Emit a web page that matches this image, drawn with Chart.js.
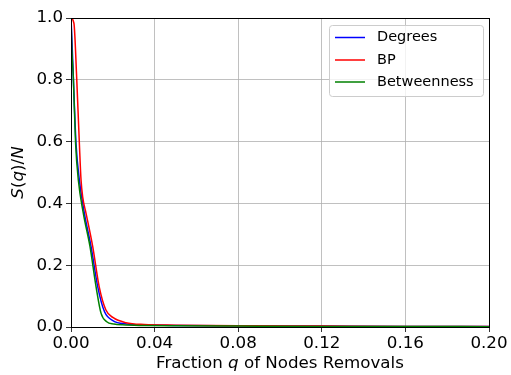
<!DOCTYPE html>
<html>
<head>
<meta charset="utf-8">
<script src="https://cdn.jsdelivr.net/npm/chart.js@4"></script>
<style>
  html, body { margin: 0; padding: 0; background: #fff; }
  #wrap { width: 511px; height: 375px; }
</style>
</head>
<body>
<div id="wrap"><canvas id="grafico" width="511" height="375"></canvas></div>
<script>
// --- dados ---
const qDegrees = [0, 0.0005, 0.0011, 0.0024, 0.004, 0.0064, 0.0096, 0.0128, 0.016, 0.0202, 0.0266, 0.035, 0.05, 0.08, 0.12, 0.16, 0.2];
const sDegrees = [1.0, 0.92, 0.81, 0.594, 0.476, 0.368, 0.26, 0.13, 0.05, 0.02, 0.01, 0.007, 0.005, 0.004, 0.003, 0.002, 0.002];

const qBP = [0, 0.0014, 0.0027, 0.004, 0.0048, 0.0056, 0.0072, 0.0104, 0.0135, 0.0167, 0.0202, 0.0263, 0.035, 0.05, 0.08, 0.12, 0.16, 0.2];
const sBP = [1.0, 0.983, 0.81, 0.594, 0.476, 0.42, 0.368, 0.26, 0.13, 0.055, 0.03, 0.014, 0.008, 0.006, 0.004, 0.003, 0.002, 0.002];

const qBetw = [0, 0.0004, 0.0011, 0.0022, 0.0035, 0.0059, 0.0091, 0.012, 0.0144, 0.0171, 0.0205, 0.0247, 0.035, 0.05, 0.08, 0.12, 0.16, 0.2];
const sBetw = [1.0, 0.9, 0.81, 0.594, 0.476, 0.368, 0.26, 0.13, 0.044, 0.017, 0.01, 0.007, 0.005, 0.004, 0.003, 0.002, 0.002, 0.001];

const rotulos = ['Degrees', 'BP', 'Betweenness'];
const cores = ['#0000ff', '#ff0000', '#008000'];
const xTicks = [0, 0.04, 0.08, 0.12, 0.16, 0.20];
const yTicks = [0, 0.2, 0.4, 0.6, 0.8, 1.0];

const FONTE = 'DejaVu Sans';

function pontos(qs, ss) {
    return qs.map((q, i) => ({ x: q, y: ss[i] }));
}

// texto com partes em itálico
function textoMisto(ctx, partes, size) {
    let w = 0;
    partes.forEach(p => {
        ctx.font = (p.it ? 'italic ' : '') + size + 'px "' + FONTE + '"';
        p.w = ctx.measureText(p.t).width;
        w += p.w;
    });
    return w;
}
function desenharMisto(ctx, partes, size, xc, y) {
    const w = textoMisto(ctx, partes, size);
    let x = xc - w / 2;
    ctx.textAlign = 'left';
    partes.forEach(p => {
        ctx.font = (p.it ? 'italic ' : '') + size + 'px "' + FONTE + '"';
        ctx.fillText(p.t, x, y);
        x += p.w;
    });
}

const extras = {
    id: 'extras',
    afterDatasetsDraw(chart) {
        const ctx = chart.ctx;
        const a = chart.chartArea;
        ctx.save();
        // moldura
        ctx.strokeStyle = '#000';
        ctx.lineWidth = 1;
        ctx.strokeRect(Math.round(a.left) + 0.5, Math.round(a.top) + 0.5,
            Math.round(a.right - a.left), Math.round(a.bottom - a.top));

        // legenda
        const bx = 329, by = 25, bw = 154, bh = 71, r = 3;
        ctx.fillStyle = 'rgba(255,255,255,0.8)';
        ctx.strokeStyle = '#cccccc';
        ctx.beginPath();
        ctx.roundRect(bx + 0.5, by + 0.5, bw, bh, r);
        ctx.fill();
        ctx.stroke();
        const linhas = [37.5, 60, 82];
        chart.data.datasets.forEach((ds, i) => {
            ctx.strokeStyle = ds.borderColor;
            ctx.lineWidth = 1.5;
            ctx.beginPath();
            ctx.moveTo(335, linhas[i]);
            ctx.lineTo(365, linhas[i]);
            ctx.stroke();
            ctx.fillStyle = '#000';
            ctx.font = '14.5px "' + FONTE + '"';
            ctx.textAlign = 'left';
            ctx.textBaseline = 'middle';
            ctx.fillText(ds.label, 377, linhas[i]);
        });

        // títulos dos eixos
        ctx.fillStyle = '#000';
        ctx.textBaseline = 'alphabetic';
        desenharMisto(ctx, [
            { t: 'Fraction ' }, { t: 'q', it: true }, { t: ' of Nodes Removals' }
        ], 16.7, (a.left + a.right) / 2, 368);

        ctx.translate(23, (a.top + a.bottom) / 2);
        ctx.rotate(-Math.PI / 2);
        desenharMisto(ctx, [
            { t: 'S', it: true }, { t: '(' }, { t: 'q', it: true }, { t: ')/' }, { t: 'N', it: true }
        ], 16.7, 0, 0);
        ctx.restore();
    }
};

const series = [pontos(qDegrees, sDegrees), pontos(qBP, sBP), pontos(qBetw, sBetw)];

new Chart(document.getElementById('grafico').getContext('2d'), {
    type: 'line',
    data: {
        datasets: series.map((d, i) => ({
            label: rotulos[i],
            data: d,
            borderColor: cores[i],
            backgroundColor: cores[i],
            borderWidth: 1.5,
            pointRadius: 0,
            fill: false,
            cubicInterpolationMode: 'monotone',
            order: 3 - i
        }))
    },
    options: {
        responsive: false,
        animation: false,
        layout: { padding: { top: 18, right: 22, left: 0, bottom: 0 } },
        plugins: { legend: { display: false }, tooltip: { enabled: false } },
        scales: {
            x: {
                type: 'linear',
                min: 0, max: 0.2,
                afterFit: s => { s.height = 48; },
                afterBuildTicks: s => { s.ticks = xTicks.map(v => ({ value: v })); },
                ticks: {
                    color: '#000',
                    font: { family: FONTE, size: 16.7 },
                    padding: 2,
                    maxRotation: 0,
                    callback: v => v.toFixed(2)
                },
                grid: { color: '#b0b0b0', lineWidth: 0.8, tickColor: '#000', tickLength: 5 },
                border: { display: false }
            },
            y: {
                type: 'linear',
                min: 0, max: 1,
                afterFit: s => { s.width = 71; },
                afterBuildTicks: s => { s.ticks = yTicks.map(v => ({ value: v })); },
                ticks: {
                    color: '#000',
                    font: { family: FONTE, size: 16.7 },
                    padding: 3,
                    callback: v => v.toFixed(1)
                },
                grid: { color: '#b0b0b0', lineWidth: 0.8, tickColor: '#000', tickLength: 5 },
                border: { display: false }
            }
        }
    },
    plugins: [extras]
});
</script>
</body>
</html>
